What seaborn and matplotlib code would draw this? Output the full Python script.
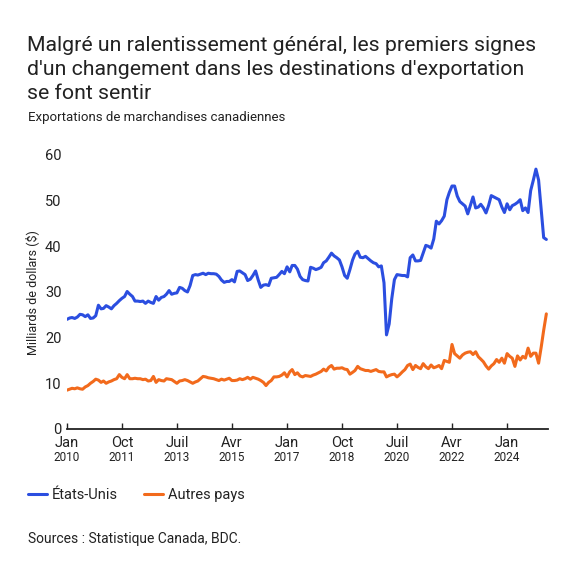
import matplotlib
matplotlib.use("Agg")
import matplotlib.pyplot as plt
import seaborn as sns
import pandas as pd

# Exportations mensuelles (milliards $), janv. 2010 -> avr. 2025
us_vals = [
    24.0, 24.3, 24.4, 24.2, 24.5, 25.1, 25.0, 24.6, 25.0, 24.2, 24.3, 24.8,
    27.1, 26.3, 26.4, 27.0, 26.7, 26.3, 27.0, 27.5, 28.1, 28.6, 29.0, 30.1,
    29.5, 29.0, 28.0, 28.0, 27.9, 28.0, 27.5, 28.0, 27.7, 27.5, 29.0, 28.2,
    28.8, 29.0, 29.5, 30.3, 29.5, 29.7, 29.8, 31.0, 30.8, 30.3, 30.0, 31.4,
    33.6, 33.8, 33.7, 33.9, 34.1, 33.8, 34.1, 34.0, 34.0, 33.9, 33.4, 32.6,
    32.1, 32.3, 32.3, 32.7, 32.2, 34.5, 34.6, 34.2, 33.8, 32.5, 32.8, 33.6,
    34.6, 32.6, 31.0, 31.5, 31.6, 31.4, 33.0, 33.1, 33.2, 33.8, 34.5, 34.0,
    35.5, 34.4, 35.8, 35.8, 35.0, 33.4, 32.7, 32.5, 32.4, 35.4, 35.2, 34.9,
    35.1, 35.4, 36.4, 36.8, 37.6, 38.5, 37.9, 37.5, 37.0, 35.5, 33.6, 33.0,
    34.9, 37.0, 38.3, 38.9, 37.6, 37.5, 37.8, 37.3, 36.8, 36.4, 36.2, 35.5,
    35.7, 32.0, 20.6, 23.0, 28.5, 32.7, 33.8, 33.7, 33.6, 33.6, 33.3, 37.5,
    38.1, 36.8, 36.8, 36.9, 38.5, 40.2, 40.0, 39.6, 41.6, 45.5, 44.9, 45.6,
    46.6, 50.2, 51.8, 53.2, 53.2, 51.0, 49.8, 49.3, 48.8, 47.1, 49.0, 50.8,
    48.4, 48.6, 49.2, 48.4, 47.3, 49.0, 51.1, 50.8, 50.5, 50.2, 48.6, 47.4,
    49.3, 48.0, 48.9, 49.2, 49.6, 50.2, 47.8, 48.4, 47.4, 52.2, 54.5, 56.9,
    54.5, 48.0, 41.9, 41.5,
]
other_vals = [
    8.5, 8.7, 8.9, 8.8, 9.0, 8.8, 8.7, 9.2, 9.5, 10.0, 10.4, 10.9,
    10.7, 10.2, 10.5, 10.0, 10.3, 10.5, 10.8, 11.0, 11.9, 11.3, 11.0, 11.9,
    11.0, 11.0, 11.1, 11.0, 11.0, 10.8, 10.9, 10.5, 10.6, 11.5, 10.2, 10.8,
    10.6, 10.5, 11.0, 10.9, 10.8, 10.4, 10.0, 10.5, 10.6, 10.8, 10.6, 10.3,
    10.0, 10.3, 10.5, 11.0, 11.5, 11.4, 11.2, 11.1, 11.0, 10.8, 10.6, 10.9,
    10.7, 10.9, 11.1, 10.6, 10.6, 10.7, 11.0, 10.8, 11.0, 11.3, 10.9, 11.3,
    11.1, 10.9, 10.6, 10.2, 9.5, 10.2, 10.6, 11.4, 11.4, 11.5, 11.8, 12.3,
    11.4, 12.5, 13.0, 11.9, 12.3, 11.6, 11.4, 11.7, 11.6, 11.5, 11.8, 12.0,
    12.3, 12.6, 13.1, 12.7, 13.5, 13.9, 13.1, 13.3, 13.3, 13.4, 13.1, 13.0,
    12.0, 12.4, 12.8, 13.7, 13.2, 13.0, 12.8, 12.8, 12.6, 12.8, 13.0, 12.6,
    12.5, 12.5, 11.4, 11.7, 11.9, 12.0, 11.4, 11.9, 12.5, 13.0, 13.9, 14.2,
    13.0, 13.9, 13.5, 13.2, 14.3, 13.6, 13.2, 14.0, 13.4, 13.6, 13.9, 13.2,
    15.0, 14.8, 14.6, 18.5, 16.5, 16.0, 15.5, 16.2, 16.6, 16.8, 16.9, 16.3,
    16.9, 15.8, 15.3, 14.7, 13.8, 13.1, 13.8, 14.3, 15.2, 14.6, 15.5, 14.4,
    16.5, 15.9, 15.5, 13.7, 16.0, 15.1, 15.9, 15.5, 17.7, 15.9, 16.6, 16.6,
    14.4, 18.0, 21.6, 25.2,
]
series_names = ["États-Unis", "Autres pays"]
tick_months = ["Jan", "Oct", "Juil", "Avr", "Jan", "Oct", "Juil", "Avr", "Jan"]
tick_years = ["2010", "2011", "2013", "2015", "2017", "2018", "2020", "2022", "2024"]
y_ticks = [0, 10, 20, 30, 40, 50, 60]

blue = "#2b4ee0"
orange = "#f26a1c"
txt = "#222222"

n = len(us_vals)
dates = pd.date_range("2010-01-01", periods=n, freq="MS")
df = pd.DataFrame({
    "date": list(dates) * 2,
    "valeur": us_vals + other_vals,
    "serie": [series_names[0]] * n + [series_names[1]] * n,
})

sns.set_theme(style="white")
plt.rcParams["font.family"] = ["Roboto", "DejaVu Sans"]

fig = plt.figure(figsize=(5.75, 5.75), dpi=100)
ax = fig.add_axes([0.1165, 0.254, 0.8365, 0.4765])

sns.lineplot(data=df, x="date", y="valeur", hue="serie",
             palette=[blue, orange], linewidth=2.2, ax=ax)

# axes
ax.set_ylim(0, 60)
ax.set_xlim(dates[0], pd.Timestamp("2025-04-20"))
ax.set_yticks(y_ticks)
ax.set_yticklabels([str(v) for v in y_ticks], fontsize=10.5, color=txt)
ax.tick_params(axis="y", length=0, pad=4)

tick_dates = pd.date_range("2010-01-01", periods=len(tick_months), freq="21MS")
ax.set_xticks(tick_dates)
ax.set_xticklabels(tick_months, fontsize=10.5, color=txt)
ax.tick_params(axis="x", direction="in", length=4, width=1, color=txt, pad=5, bottom=True)
for d, yr in zip(tick_dates, tick_years):
    ax.text(d, -0.105, yr, transform=ax.get_xaxis_transform(),
            ha="center", va="center", fontsize=8.5, color=txt)

for s in ["top", "right", "left"]:
    ax.spines[s].set_visible(False)
ax.spines["bottom"].set_color(txt)
ax.spines["bottom"].set_linewidth(1.3)
ax.set_xlabel("")
ax.set_ylabel("")
ax.grid(False)

fig.text(32.5 / 575, 1 - 293 / 575, "Milliards de dollars ($)", rotation=90,
         ha="center", va="center", fontsize=9, color=txt)

# titres
fig.text(27 / 575, 1 - 36 / 575,
         "Malgré un ralentissement général, les premiers signes\n"
         "d'un changement dans les destinations d'exportation\n"
         "se font sentir",
         ha="left", va="top", fontsize=15.3, color=txt, linespacing=1.33)
fig.text(28 / 575, 1 - 117 / 575, "Exportations de marchandises canadiennes",
         ha="left", va="center", fontsize=9.5, color=txt)

# légende
sns.move_legend(ax, "center left", bbox_to_anchor=(28 / 575, 1 - 495 / 575),
                bbox_transform=fig.transFigure, ncol=2, frameon=False, title=None,
                fontsize=10.5, handlelength=1.3, handletextpad=0.35,
                columnspacing=1.8, borderpad=0, borderaxespad=0)
for t in ax.get_legend().get_texts():
    t.set_color(txt)

fig.text(28 / 575, 1 - 539 / 575, "Sources : Statistique Canada, BDC.",
         ha="left", va="center", fontsize=10, color=txt)

fig.savefig("out.png", dpi=100, facecolor="white")
